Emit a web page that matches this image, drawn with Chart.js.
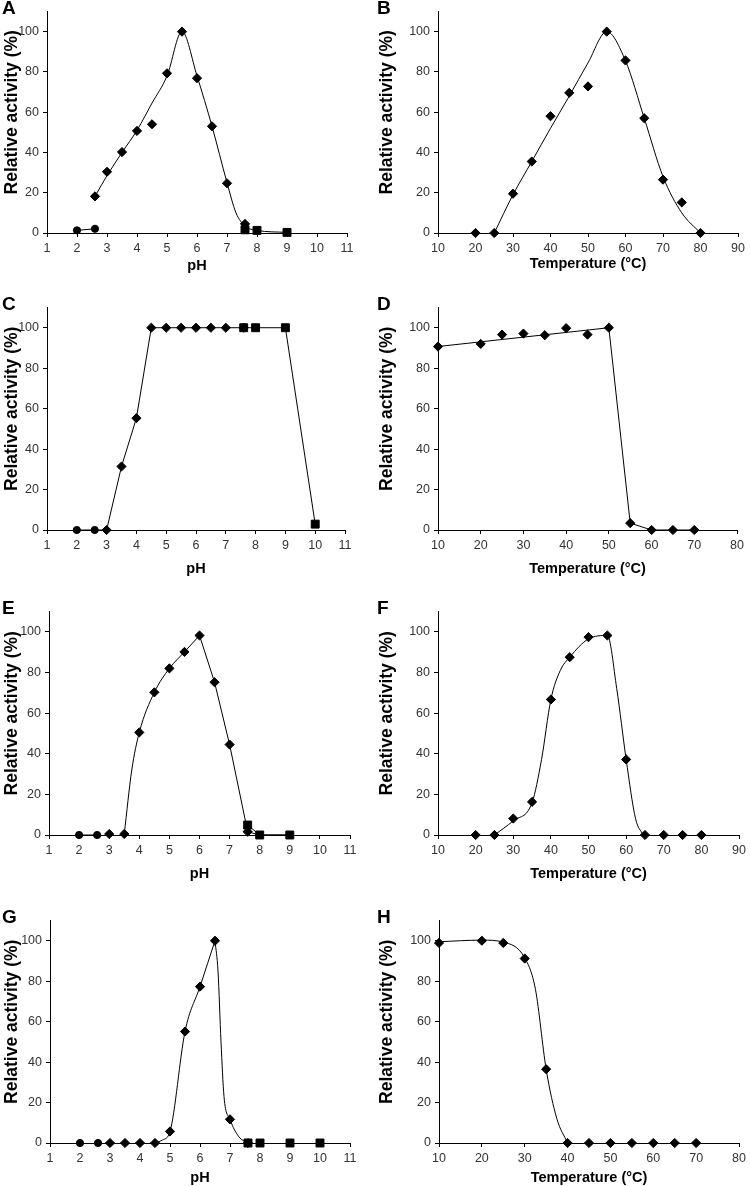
<!DOCTYPE html>
<html>
<head>
<meta charset="utf-8">
<script src="https://cdn.jsdelivr.net/npm/chart.js@4"></script>
<style>
  body { margin: 0; background: #fff; }
  #wrap { position: relative; width: 750px; height: 1186px; overflow: hidden; background: #fff; }
  #wrap canvas { position: absolute; }
  .tag { position: absolute; font: bold 19px/19px 'Liberation Sans', Arial, sans-serif; color: #000; }
</style>
</head>
<body>
<div id="wrap"></div>
<script>
// A - pH
const aCircX = [2, 2.6];
const aCircY = [1.3, 2.1];
const aDiaX = [2.6, 3, 3.5, 4, 4.5, 5, 5.5, 6, 6.5, 7, 7.6];
const aDiaY = [18.2, 30.4, 40.2, 50.7, 54, 79.3, 100, 76.9, 53, 24.7, 4.5];
const aSqX = [7.6, 8, 9];
const aSqY = [1.6, 1.3, 0.3];
const aFitX = [2.6, 3, 3.5, 4, 4.5, 5, 5.5, 6, 6.5, 7, 7.3, 7.6, 8, 9];
const aFitY = [18.2, 28.5, 40, 51, 64.5, 78, 100, 78, 53, 25, 10, 3.5, 1.3, 0.3];

// B - temperature
const bDiaX = [20, 25, 30, 35, 40, 45, 50, 55, 60, 65, 70, 75, 80];
const bDiaY = [0, 0, 19.5, 35.5, 58, 69.6, 72.8, 100, 85.7, 57, 26.5, 15.2, 0];
const bFitX = [25, 30, 35, 40, 45, 50, 55, 60, 65, 70, 75, 80];
const bFitY = [0, 19, 35.5, 52, 68, 84.5, 100, 85.5, 57, 28, 10, 0];

// C - pH
const cCircX = [2, 2.6];
const cCircY = [0, 0];
const cDiaX = [3, 3.5, 4, 4.5, 5, 5.5, 6, 6.5, 7, 7.6];
const cDiaY = [0, 31.4, 55.3, 100, 100, 100, 100, 100, 100, 100];
const cSqX = [7.6, 8, 9, 10];
const cSqY = [100, 100, 100, 2.9];
const cLineX = [2, 3, 3.5, 4, 4.5, 9, 10];
const cLineY = [0, 0, 31.4, 55.3, 100, 100, 2.9];

// D - temperature
const dDiaX = [10, 20, 25, 30, 35, 40, 45, 50, 55, 60, 65, 70];
const dDiaY = [90.7, 92, 96.6, 97.1, 96.3, 99.8, 96.6, 100, 3.4, 0, 0, 0];
const dLineX = [10, 50, 55, 60, 70];
const dLineY = [90.7, 100, 3.4, 0, 0];

// E - pH
const eCircX = [2, 2.6];
const eCircY = [0, 0];
const eDiaX = [3, 3.5, 4, 4.5, 5, 5.5, 6, 6.5, 7, 7.6];
const eDiaY = [0.5, 0.5, 50.5, 70.2, 82, 90.1, 98.2, 75.2, 44.5, 1.6];
const eSqX = [7.6, 8, 9];
const eSqY = [4.9, 0, 0];
const eRiseX = [3.5, 3.75, 4, 4.5, 5, 5.5, 6];
const eRiseY = [0.5, 32, 50.5, 70.2, 82, 90.1, 98.2];
const eFallX = [6, 6.5, 7, 7.6, 8, 9];
const eFallY = [98.2, 75.2, 44.5, 1.6, 0, 0];

// F - temperature
const fDiaX = [20, 25, 30, 35, 40, 45, 50, 55, 60, 65, 70, 75, 80];
const fDiaY = [0, 0, 8.1, 16.3, 66.7, 87.5, 97.4, 98.2, 37.2, 0, 0, 0, 0];
const fFitX = [25, 30, 35, 37.5, 40, 42.5, 45, 50, 55, 57.5, 60, 62.5, 64.5];
const fFitY = [0, 7, 16, 37, 66.7, 81, 87.5, 96.5, 98.2, 72, 37.2, 8, 0];

// G - pH
const gCircX = [2, 2.6];
const gCircY = [0, 0];
const gDiaX = [3, 3.5, 4, 4.5, 5, 5.5, 6, 6.5, 7, 7.6];
const gDiaY = [0, 0, 0, 0, 5.7, 55.1, 77.3, 100, 11.7, 0];
const gSqX = [7.6, 8, 9, 10];
const gSqY = [0, 0, 0, 0];
const gRiseX = [4.5, 4.75, 5, 5.5, 6, 6.5];
const gRiseY = [0, 1.5, 5.7, 55.1, 77.3, 100];
const gFallX = [6.5, 6.6, 6.7, 6.8, 7, 7.3, 7.6];
const gFallY = [100, 85, 50, 23, 11.7, 3, 0];

// H - temperature
const hDiaX = [10, 20, 25, 30, 35, 40, 45, 50, 55, 60, 65, 70];
const hDiaY = [98.9, 100, 98.9, 91.2, 36.5, 0, 0, 0, 0, 0, 0, 0];
const hFitX = [10, 20, 25, 30, 32.5, 35, 37.5, 40];
const hFitY = [99.5, 100.3, 99.3, 91.5, 76, 36.5, 12, 0];

const phTitle = 'pH';
const tempTitle = 'Temperature (°C)';
const yTitle = 'Relative activity (%)';

const FONT = "'Liberation Sans', Arial, sans-serif";
const pts = (xs, ys) => xs.map((x, i) => ({ x: x, y: ys[i] }));

function marks(xs, ys, style, joined) {
  const r = style === 'circle' ? 3.6 : style === 'rect' ? 5.6 : 4.6;
  return {
    data: pts(xs, ys), pointStyle: style, pointRadius: r,
    backgroundColor: '#000', borderColor: '#000', borderWidth: 1,
    showLine: !!joined, tension: 0, clip: false
  };
}
function curve(xs, ys, smooth) {
  return {
    data: pts(xs, ys), pointRadius: 0, showLine: true,
    borderColor: '#000', borderWidth: 1, fill: false,
    cubicInterpolationMode: smooth ? 'monotone' : 'default', tension: 0,
    clip: false
  };
}

// y title sits a little above the middle of the axis in the original
const yTitlePlugin = {
  id: 'yTitle',
  afterDraw(chart) {
    const { ctx, chartArea } = chart;
    ctx.save();
    ctx.translate(12, (chartArea.top + chartArea.bottom) / 2 - 10);
    ctx.rotate(-Math.PI / 2);
    ctx.font = 'bold 17.5px ' + FONT;
    ctx.fillStyle = '#000';
    ctx.textAlign = 'center';
    ctx.textBaseline = 'middle';
    ctx.fillText(yTitle, 0, 0);
    ctx.restore();
  }
};

const panels = [
  { tag: 'A', left: 0, plotLeft: 47, plotRight: 347, plotTop: 8, plotBottom: 233, gap: 33,
    x: [1, 11, 1], xTitle: phTitle,
    sets: [marks(aCircX, aCircY, 'circle', true), marks(aDiaX, aDiaY, 'rectRot'),
           marks(aSqX, aSqY, 'rect'), curve(aFitX, aFitY, true)] },
  { tag: 'B', left: 375, plotLeft: 438, plotRight: 738, plotTop: 8, plotBottom: 233, gap: 31,
    x: [10, 90, 10], xTitle: tempTitle,
    sets: [marks(bDiaX, bDiaY, 'rectRot'), curve(bFitX, bFitY, true)] },
  { tag: 'C', left: 0, plotLeft: 47, plotRight: 345, plotTop: 304, plotBottom: 530, gap: 39,
    x: [1, 11, 1], xTitle: phTitle,
    sets: [marks(cCircX, cCircY, 'circle'), marks(cDiaX, cDiaY, 'rectRot'),
           marks(cSqX, cSqY, 'rect'), curve(cLineX, cLineY, false)] },
  { tag: 'D', left: 375, plotLeft: 438, plotRight: 737, plotTop: 304, plotBottom: 530, gap: 39,
    x: [10, 80, 10], xTitle: tempTitle,
    sets: [marks(dDiaX, dDiaY, 'rectRot'), curve(dLineX, dLineY, false)] },
  { tag: 'E', left: 0, plotLeft: 49, plotRight: 350, plotTop: 608, plotBottom: 835, gap: 39,
    x: [1, 11, 1], xTitle: phTitle,
    sets: [marks(eCircX, eCircY, 'circle', true), marks(eDiaX, eDiaY, 'rectRot'),
           marks(eSqX, eSqY, 'rect', true), curve(eRiseX, eRiseY, true), curve(eFallX, eFallY, false)] },
  { tag: 'F', left: 375, plotLeft: 438, plotRight: 740, plotTop: 608, plotBottom: 835, gap: 39,
    x: [10, 90, 10], xTitle: tempTitle,
    sets: [marks(fDiaX, fDiaY, 'rectRot'), curve(fFitX, fFitY, true)] },
  { tag: 'G', left: 0, plotLeft: 50, plotRight: 350, plotTop: 917, plotBottom: 1143, gap: 35,
    x: [1, 11, 1], xTitle: phTitle,
    sets: [marks(gCircX, gCircY, 'circle'), marks(gDiaX, gDiaY, 'rectRot'),
           marks(gSqX, gSqY, 'rect'), curve(gRiseX, gRiseY, true), curve(gFallX, gFallY, true)] },
  { tag: 'H', left: 375, plotLeft: 439, plotRight: 739, plotTop: 917, plotBottom: 1143, gap: 35,
    x: [10, 80, 10], xTitle: tempTitle,
    sets: [marks(hDiaX, hDiaY, 'rectRot'), curve(hFitX, hFitY, true)] }
];

const wrap = document.getElementById('wrap');

panels.forEach(p => {
  const top = p.plotTop - 8;
  const xH = p.gap + 9;
  const cv = document.createElement('canvas');
  cv.width = 375;
  cv.height = p.plotBottom - top + xH;
  cv.style.left = p.left + 'px';
  cv.style.top = top + 'px';
  wrap.appendChild(cv);

  const tag = document.createElement('div');
  tag.className = 'tag';
  tag.textContent = p.tag;
  tag.style.left = (p.left + 2) + 'px';
  tag.style.top = (p.plotTop - 10) + 'px';
  wrap.appendChild(tag);

  new Chart(cv, {
    type: 'scatter',
    data: { datasets: p.sets },
    plugins: [yTitlePlugin],
    options: {
      responsive: false,
      animation: false,
      layout: { padding: { top: 8, left: 0, bottom: 0, right: p.left + 375 - p.plotRight } },
      plugins: { legend: { display: false }, tooltip: { enabled: false } },
      scales: {
        x: {
          type: 'linear', min: p.x[0], max: p.x[1],
          ticks: { stepSize: p.x[2], color: '#333', font: { family: FONT, size: 12.5 }, padding: 4, maxRotation: 0, autoSkip: false },
          grid: { drawOnChartArea: false, drawTicks: true, tickLength: 4, color: '#000' },
          border: { color: '#000', width: 1 },
          title: { display: true, text: p.xTitle, color: '#000', font: { family: FONT, size: 14.5, weight: 'bold' }, padding: { top: 0, bottom: 0 } },
          afterFit: s => { s.height = xH; }
        },
        y: {
          min: 0, max: 110,
          afterBuildTicks: s => { s.ticks = s.ticks.filter(t => t.value <= 100); },
          ticks: { stepSize: 20, color: '#333', font: { family: FONT, size: 12.5 }, padding: 4 },
          grid: { drawOnChartArea: false, drawTicks: true, tickLength: 4, color: '#000' },
          border: { color: '#000', width: 1 },
          title: { display: false },
          afterFit: s => { s.width = p.plotLeft - p.left; }
        }
      }
    }
  });
});
</script>
</body>
</html>
